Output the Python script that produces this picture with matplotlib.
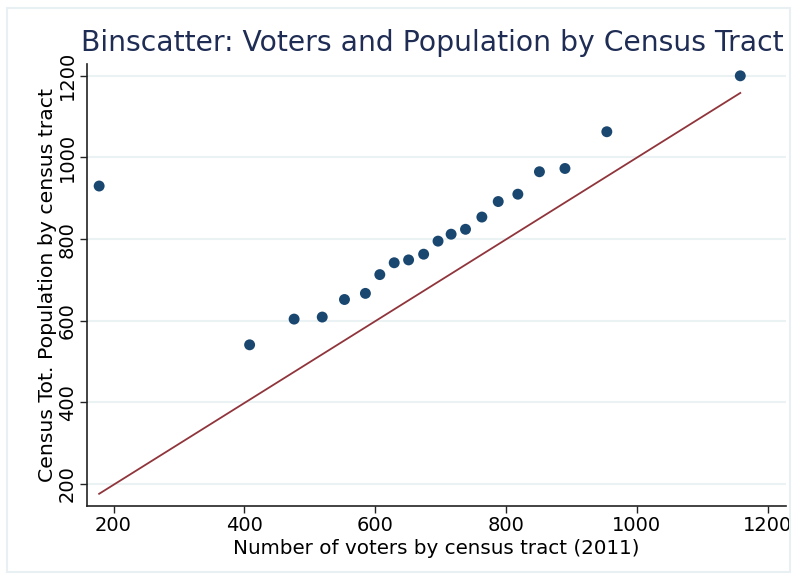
import matplotlib
matplotlib.use("Agg")
import matplotlib.pyplot as plt
import numpy as np

# binned means (x: voters, y: population)
voters = [178, 408, 476, 519, 553, 585, 607, 629, 651, 674,
          696, 716, 738, 763, 788, 818, 851, 890, 954, 1158]
population = [930, 541, 604, 609, 652, 667, 713, 742, 749, 763,
              795, 812, 824, 854, 892, 910, 965, 973, 1063, 1200]

# linear fit endpoints
fit_x = [178, 1158]
fit_y = [176, 1158]

xticks = [200, 400, 600, 800, 1000, 1200]
yticks = [200, 400, 600, 800, 1000, 1200]

navy = "#1a476f"
maroon = "#90353b"
grid_col = "#eaf2f3"

fig = plt.figure(figsize=(7.97, 5.79), dpi=100)
fig.patch.set_facecolor("white")

# light frame around the graph region
frame = plt.Rectangle((7 / 797, 7 / 579), 783 / 797, 564 / 579, transform=fig.transFigure,
                      fill=False, edgecolor="#e9f0f3", linewidth=1.5)
fig.add_artist(frame)

ax = fig.add_axes([0.1088, 0.126, 0.8775, 0.7635])

for t in yticks:
    ax.axhline(t, color=grid_col, linewidth=1.5, zorder=0)

ax.plot(fit_x, fit_y, color=maroon, linewidth=1.3, zorder=2)
ax.scatter(voters, population, s=62, color=navy, edgecolors="none", zorder=3)

ax.set_xlim(159, 1228)
ax.set_ylim(146, 1229)
ax.set_xticks(xticks)
ax.set_yticks(yticks)

for side in ["top", "right"]:
    ax.spines[side].set_visible(False)
for side in ["left", "bottom"]:
    ax.spines[side].set_color("#222222")
    ax.spines[side].set_linewidth(1.2)

ax.tick_params(axis="both", direction="out", length=5, width=1.0, color="#222222",
               labelsize=14, labelcolor="black")
ax.tick_params(axis="x", pad=2)
ax.tick_params(axis="y", pad=2)
for lab in ax.get_yticklabels():
    lab.set_rotation(90)
    lab.set_va("center")

ax.set_xlabel("Number of voters by census tract (2011)", fontsize=14.35, labelpad=3)
ax.set_ylabel("Census Tot. Population by census tract", fontsize=14.7, labelpad=1)

fig.text(81 / 797, 0.926, "Binscatter: Voters and Population by Census Tract",
         ha="left", va="center", fontsize=20.3, color="#1f2d55")

fig.savefig("out.png", dpi=100)
